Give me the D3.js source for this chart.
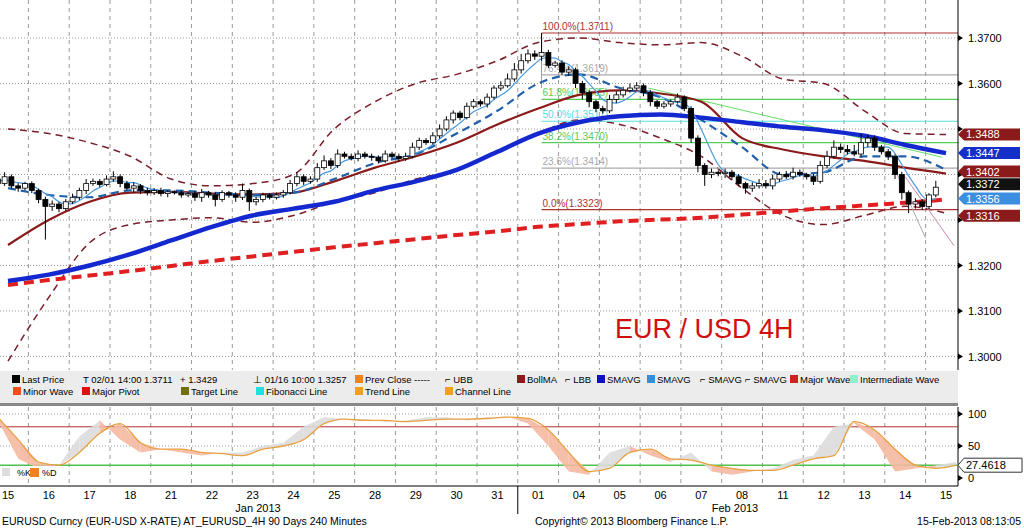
<!DOCTYPE html>
<html><head><meta charset="utf-8">
<script src="https://cdn.jsdelivr.net/npm/d3@7"></script>
<style>body{margin:0;background:#fff}svg{display:block;font-family:"Liberation Sans",Arial,sans-serif}</style>
</head><body><svg id="c" width="1024" height="528"></svg>
<script>
const days=["15","16","17","18","21","22","23","24","25","28","29","30","31","01","04","05","06","07","08","11","12","13","14","15"];
// closes, pips above 1.3000 (6 candles per 4H day)
const closes=[390,380,395,375,370,380, 365,345,330,335,325,340, 350,365,380,385,378,390, 395,380,370,375,365,360,
365,358,362,360,355,358, 350,360,355,345,360,355, 350,365,340,345,355,350, 355,360,380,395,385,390,
415,430,420,445,440,435, 445,440,438,430,445,440, 435,440,460,475,470,485, 500,520,535,525,550,560,
555,570,590,595,610,630, 650,665,660,668,640,645, 625,630,600,580,560,545, 540,565,575,585,590,595,
580,560,550,555,560,570, 545,480,420,400,405,402, 405,395,380,370,375,380, 375,390,400,395,405,400,
395,385,420,440,460,455, 450,445,470,480,460,450, 440,400,360,335,340,330, 355,372];
const wickUp=[8,6,10,5,6,4, 5,4,6,8,5,6, 8,6,10,6,5,8, 12,5,6,8,4,6, 5,6,4,3,5,4, 6,8,4,6,5,4, 6,15,4,6,5,4, 5,6,8,10,5,6,
10,12,6,10,5,6, 8,5,6,4,8,5, 6,8,10,6,5,8, 10,8,6,5,8,6, 5,8,6,10,12,15, 15,10,8,43,6,5, 6,8,5,6,5,4, 6,10,8,8,10,8,
5,6,4,6,5,8, 4,5,6,5,8,4, 8,5,6,4,8,10, 8,10,6,8,10,6, 4,6,10,12,15,8, 10,15,20,8,6,5, 6,4,6,5,8,6, 4,14];
const wickDn=[10,8,5,6,8,5, 6,8,73,10,8,5, 5,6,8,5,6,4, 6,8,5,10,8,6, 5,6,8,4,6,5, 8,10,6,15,5,6, 10,6,20,8,6,5, 5,6,4,6,8,5,
6,5,8,6,5,4, 6,5,8,6,4,5, 6,5,4,6,5,4, 6,5,8,6,4,5, 6,8,5,6,4,6, 8,6,8,10,6,5, 6,8,10,15,12,8, 6,5,8,6,5,4,
8,10,6,5,6,4, 6,10,15,25,8,6, 10,8,6,12,8,6, 6,8,6,5,6,5, 6,8,5,6,5,8, 6,5,6,10,8,6, 8,10,15,20,10,8, 6,5];
// indicator lines sampled at day centres (pips above 1.3000)
const smaThick=[166,180,200,225,255,285,310,325,340,365,385,410,450,490,515,528,532,525,515,505,497,485,465,447];
const sma200=[157,168,178,188,199,210,220,230,240,249,258,267,275,285,291,297,301,305,312,319,326,332,338,345];
const sma3=[370,355,350,365,365,360,355,360,390,425,445,490,540,600,620,590,570,520,460,400,405,440,440,410];
const bollMA=[245,300,340,360,362,358,356,360,385,415,440,470,510,545,575,585,578,560,480,455,440,430,415,402];
const ubb=[500,490,470,440,390,375,380,400,500,560,600,620,650,690,700,690,685,690,660,610,600,540,490,488];
const lbb=[-10,130,250,290,300,305,295,310,340,360,390,410,450,490,520,510,480,440,370,310,290,310,330,315];
// stochastic, two samples per day
const stochD=[95,60,25,20,40,70,85,55,45,45,40,38,35,45,50,60,85,92,90,90,88,90,92,92,93,95,93,75,40,10,15,40,45,30,28,20,15,12,12,20,30,35,88,75,45,20,15,20];
const stochK=[90,30,15,20,65,90,60,40,45,40,35,40,40,50,55,80,95,92,92,88,90,95,95,90,95,96,85,50,10,5,40,50,35,25,40,10,5,10,15,28,35,80,85,60,10,15,20,25];
const fibs=[["100.0%",1.3711,"#a33"],["76.4%",1.3619,"#aaa"],["61.8%",1.3565,"#5c5"],["50.0%",1.3517,"#5dd"],["38.2%",1.3470,"#5c5"],["23.6%",1.3414,"#aaa"],["0.0%",1.3323,"#a33"]];
const priceTicks=[1.37,1.36,1.35,1.34,1.33,1.32,1.31,1.30];
const tags=[[1.3488,"#8b1a1a",0],[1.3447,"#1530c8",0],[1.3402,"#8b1a1a",-2],[1.3356,"#3c8ee0",4],[1.3372,"#111",-3],[1.3316,"#8b1a1a",3]];

const svg=d3.select("#c");
const P=v=>1.3+v/10000;
const y=d3.scaleLinear().domain([1.30,1.37]).range([356.5,38]);
const xd=d3.scaleLinear().domain([0,23]).range([8,946]);
const dayW=xd(1)-xd(0);
const xc=j=>xd(Math.floor(j/6))-dayW/2+((j%6)+0.5)*dayW/6;
const ys=d3.scaleLinear().domain([0,100]).range([478,414]);
const right=958;

const g=svg.append("g");
priceTicks.forEach(t=>g.append("line").attr("x1",0).attr("x2",right).attr("y1",y(t)).attr("y2",y(t)).attr("stroke","#999").attr("stroke-dasharray","1,2"));
[100,50].forEach(t=>g.append("line").attr("x1",0).attr("x2",right).attr("y1",ys(t)).attr("y2",ys(t)).attr("stroke","#999").attr("stroke-dasharray","1,2"));
for(let i=1;i<=23;i++){const x=xd(i)-dayW/2;
 g.append("line").attr("x1",x).attr("x2",x).attr("y1",0).attr("y2",370).attr("stroke","#999").attr("stroke-dasharray","4,4");
 g.append("line").attr("x1",x).attr("x2",x).attr("y1",407).attr("y2",486).attr("stroke","#999").attr("stroke-dasharray","4,4");}

const line=d3.line().x((d,i)=>xd(i)).y(d=>y(P(d))).curve(d3.curveMonotoneX);
svg.append("path").attr("d",line(ubb)).attr("fill","none").attr("stroke","#7a1f2b").attr("stroke-width",1.5).attr("stroke-dasharray","7,5");
svg.append("path").attr("d",line(lbb)).attr("fill","none").attr("stroke","#7a1f2b").attr("stroke-width",1.5).attr("stroke-dasharray","7,5");
const fx=xd(13)-dayW/2+3.5*dayW/6;
fibs.forEach(f=>{svg.append("line").attr("x1",fx).attr("x2",right).attr("y1",y(f[1])).attr("y2",y(f[1])).attr("stroke",f[2]).attr("stroke-width",1.2);
 svg.append("text").attr("x",fx+1).attr("y",y(f[1])-3).attr("fill",f[2]).attr("font-size",10).text(f[0]+"("+f[1].toFixed(4)+")");});
svg.append("line").attr("x1",fx).attr("x2",fx).attr("y1",y(1.3711)).attr("y2",y(1.3590)).attr("stroke","#999");
svg.append("line").attr("x1",xd(15.7)).attr("y1",y(1.3590)).attr("x2",xd(22.9)).attr("y2",y(1.3438)).attr("stroke","#6d6").attr("stroke-width",1);
svg.append("line").attr("x1",xd(21.7)).attr("y1",y(1.3420)).attr("x2",xd(22.5)).attr("y2",y(1.3260)).attr("stroke","#aaa");
svg.append("line").attr("x1",xd(22)).attr("y1",y(1.3395)).attr("x2",xd(23.2)).attr("y2",y(1.3243)).attr("stroke","#c8a");
svg.append("path").attr("d",line(sma200)).attr("fill","none").attr("stroke","#e02020").attr("stroke-width",4).attr("stroke-dasharray","10,6");
svg.append("path").attr("d",line(bollMA)).attr("fill","none").attr("stroke","#8b1a1a").attr("stroke-width",2.2);
svg.append("path").attr("d",line(sma3)).attr("fill","none").attr("stroke","#2060a8").attr("stroke-width",2.2).attr("stroke-dasharray","8,5");
svg.append("path").attr("d",line(smaThick)).attr("fill","none").attr("stroke","#1428d0").attr("stroke-width",4.5);
const thin=closes.map((c,j)=>[xc(j),d3.mean(closes.slice(Math.max(0,j-4),j+1))]);
svg.append("path").attr("d",d3.line().x(d=>d[0]).y(d=>y(P(d[1]))).curve(d3.curveMonotoneX)(thin)).attr("fill","none").attr("stroke","#4a9ae0").attr("stroke-width",1.2);
const cg=svg.append("g");
closes.forEach((c,j)=>{const o=j?closes[j-1]:c+5;const x=xc(j);const hi=Math.max(o,c)+wickUp[j],lo=Math.min(o,c)-wickDn[j];
 cg.append("line").attr("x1",x).attr("x2",x).attr("y1",y(P(hi))).attr("y2",y(P(lo))).attr("stroke","#000");
 const t=y(P(Math.max(o,c))),b=y(P(Math.min(o,c)));
 cg.append("rect").attr("x",x-2.5).attr("y",t).attr("width",5).attr("height",Math.max(1,b-t)).attr("fill",c>=o?"#fff":"#000").attr("stroke","#000").attr("stroke-width",0.8);});
svg.append("text").attr("x",615).attr("y",338).attr("fill","#d01010").attr("font-size",27).text("EUR / USD 4H");
svg.append("line").attr("x1",right).attr("x2",right).attr("y1",0).attr("y2",370).attr("stroke","#000");
svg.append("line").attr("x1",right).attr("x2",right).attr("y1",407).attr("y2",486).attr("stroke","#000");
priceTicks.forEach(t=>{svg.append("path").attr("d",`M${right},${y(t)-3}l5,3l-5,3z`);
 if(t!==1.35&&t!==1.34&&t!==1.33)svg.append("text").attr("x",968).attr("y",y(t)+4).attr("font-size",11).text(t.toFixed(4));});
tags.forEach(t=>{const yy=y(t[0])+t[2];svg.append("path").attr("d",`M${right},${yy}l6,-6h56v12h-56z`).attr("fill",t[1]);
 svg.append("text").attr("x",966).attr("y",yy+4).attr("fill","#fff").attr("font-size",11).text(t[0].toFixed(4));});
svg.append("rect").attr("x",0).attr("y",371).attr("width",958).attr("height",33).attr("fill","#ececec");
svg.append("rect").attr("x",0).attr("y",403).attr("width",958).attr("height",3).attr("fill","#888");
const leg=[[12,383,"#000","Last Price"],[83,383,null,"T 02/01 14:00 1.3711"],[180,383,null,"+ 1.3429"],[253,383,null,"⊥ 01/16 10:00 1.3257"],[355,383,"#f08020","Prev Close -----"],[445,383,null,"⌐ UBB"],[517,383,"#8b1a1a","BollMA"],[565,383,null,"⌐ LBB"],[597,383,"#1010c0","SMAVG"],[647,383,"#3090e0","SMAVG"],[700,383,null,"⌐ SMAVG"],[745,383,null,"⌐ SMAVG"],[790,383,"#d02020","Major Wave"],[850,383,"#90f0c8","Intermediate Wave"],
[13,395,"#f05020","Minor Wave"],[82,395,"#e01010","Major Pivot"],[181,395,"#707010","Target Line"],[256,395,"#20e0e0","Fibonacci Line"],[355,395,"#f0a020","Trend Line"],[445,395,"#f0a020","Channel Line"]];
leg.forEach(l=>{let x=l[0];if(l[2]){svg.append("rect").attr("x",x).attr("y",l[1]-8).attr("width",8).attr("height",8).attr("fill",l[2]);x+=10;}
 svg.append("text").attr("x",x).attr("y",l[1]).attr("font-size",9.5).text(l[3]);});
const xs=i=>xd(0)-dayW/2+(i+0.5)*dayW/2;
svg.append("line").attr("x1",0).attr("x2",right).attr("y1",ys(80)).attr("y2",ys(80)).attr("stroke","#b03030");
svg.append("line").attr("x1",0).attr("x2",right).attr("y1",ys(20)).attr("y2",ys(20)).attr("stroke","#50c050").attr("stroke-width",1.5);
for(let i=0;i<stochD.length-1;i++){const pts=[[xs(i),ys(stochK[i])],[xs(i+1),ys(stochK[i+1])],[xs(i+1),ys(stochD[i+1])],[xs(i),ys(stochD[i])]];
 const up=(stochK[i]+stochK[i+1])>(stochD[i]+stochD[i+1]);
 svg.append("path").attr("d","M"+pts.join("L")+"Z").attr("fill",up?"#dcdcdc":"#f5b8a0").attr("opacity",0.9);}
svg.append("path").attr("d",d3.line().x((d,i)=>xs(i)).y(d=>ys(d)).curve(d3.curveMonotoneX)(stochD)).attr("fill","none").attr("stroke","#e8a040").attr("stroke-width",1.3);
[100,50,0].forEach(t=>{svg.append("path").attr("d",`M${right},${ys(t)-3}l5,3l-5,3z`);svg.append("text").attr("x",968).attr("y",ys(t)+4).attr("font-size",11).text(t);});
svg.append("path").attr("d",`M${right},${ys(20)}l6,-7h58v14h-58z`).attr("fill","#fff").attr("stroke","#333");
svg.append("text").attr("x",966).attr("y",ys(20)+4).attr("font-size",11).text("27.4618");
svg.append("rect").attr("x",0).attr("y",466).attr("width",60).attr("height",13).attr("fill","#fff");
svg.append("rect").attr("x",2).attr("y",468).attr("width",8).attr("height",8).attr("fill","#ddd");
svg.append("text").attr("x",17).attr("y",476).attr("font-size",9).text("%K");
svg.append("rect").attr("x",30).attr("y",468).attr("width",9).attr("height",9).attr("fill","#f08020");
svg.append("text").attr("x",42).attr("y",476).attr("font-size",9).text("%D");
svg.append("line").attr("x1",0).attr("x2",right).attr("y1",486).attr("y2",486).attr("stroke","#000");
days.forEach((d,i)=>svg.append("text").attr("x",xd(i)).attr("y",499).attr("text-anchor","middle").attr("font-size",11).text(d));
const mx=xd(13)-dayW/2;
svg.append("line").attr("x1",mx).attr("x2",mx).attr("y1",486).attr("y2",514).attr("stroke","#000");
svg.append("text").attr("x",258).attr("y",512).attr("text-anchor","middle").attr("font-size",11).text("Jan 2013");
svg.append("text").attr("x",735).attr("y",512).attr("text-anchor","middle").attr("font-size",11).text("Feb 2013");
svg.append("text").attr("x",2).attr("y",525).attr("font-size",10.5).text("EURUSD Curncy (EUR-USD X-RATE) AT_EURUSD_4H 90 Days 240 Minutes");
svg.append("text").attr("x",535).attr("y",525).attr("font-size",10.5).text("Copyright© 2013 Bloomberg Finance L.P.");
svg.append("text").attr("x",1021).attr("y",525).attr("text-anchor","end").attr("font-size",10.5).text("15-Feb-2013 08:13:05");
</script></body></html>
